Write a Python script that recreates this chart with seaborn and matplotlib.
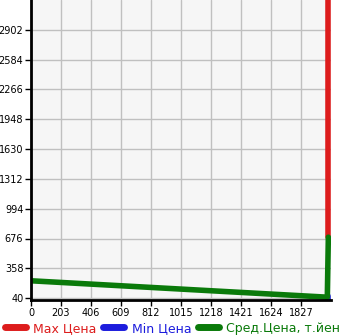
import matplotlib
matplotlib.use("Agg")
import matplotlib.pyplot as plt
import seaborn as sns
import pandas as pd
from matplotlib.lines import Line2D

# Data
avg_x = [0, 2005, 2012]
avg_y = [225, 50, 690]
max_x = [2012, 2012]
max_y = [690, 3400]
min_x = [2012, 2012]
min_y = [20, 60]
x_ticks = [0, 203, 406, 609, 812, 1015, 1218, 1421, 1624, 1827]
y_ticks = [40, 358, 676, 994, 1312, 1630, 1948, 2266, 2584, 2902]
labels = ["Max Цена", "Min Цена", "Сред.Цена, т.йен"]
colors = ["#dd1c1c", "#1c1cdd", "#0a7a0a"]

sns.set_theme(style="whitegrid")
plt.rcParams["font.family"] = ["DejaVu Sans"]

fig = plt.figure(figsize=(3.45, 3.35), dpi=100)
ax = fig.add_axes([31/345, 35/335, 300/345, 300/335])
ax.set_facecolor("#f6f6f6")

df_max = pd.DataFrame({"x": max_x, "y": max_y})
df_min = pd.DataFrame({"x": min_x, "y": min_y})
df_avg = pd.DataFrame({"x": avg_x, "y": avg_y})
sns.lineplot(data=df_max, x="x", y="y", ax=ax, color=colors[0], lw=4, sort=False, estimator=None)
sns.lineplot(data=df_min, x="x", y="y", ax=ax, color=colors[1], lw=4, sort=False, estimator=None)
sns.lineplot(data=df_avg, x="x", y="y", ax=ax, color=colors[2], lw=4, sort=False, estimator=None)

ax.set_xlim(0, 2030)
ax.set_ylim(20, 3220)
ax.set_xticks(x_ticks)
ax.set_yticks(y_ticks)
ax.set_xticklabels([str(v) for v in x_ticks], fontsize=7, color="black")
ax.set_yticklabels([str(v) for v in y_ticks], fontsize=7, color="black")
ax.set_xlabel("")
ax.set_ylabel("")
ax.grid(True, color="#c0c0c0", lw=1)
for s in ["top", "right"]:
    ax.spines[s].set_visible(False)
for s in ["left", "bottom"]:
    ax.spines[s].set_visible(True)
    ax.spines[s].set_color("black")
    ax.spines[s].set_linewidth(2)
ax.tick_params(axis="both", which="both", length=4, width=1, color="black", pad=1.5,
               bottom=True, left=True)

handles = [Line2D([0], [0], color=c, lw=5, solid_capstyle="round") for c in colors]
leg = fig.legend(handles, labels, loc="lower center", bbox_to_anchor=(0.5, -0.025), ncol=3,
                 frameon=False, fontsize=9, handlelength=1.7, columnspacing=0.5,
                 handletextpad=0.6, borderpad=0.2)
for t, c in zip(leg.get_texts(), colors):
    t.set_color(c)

fig.savefig("out.png", dpi=100)
